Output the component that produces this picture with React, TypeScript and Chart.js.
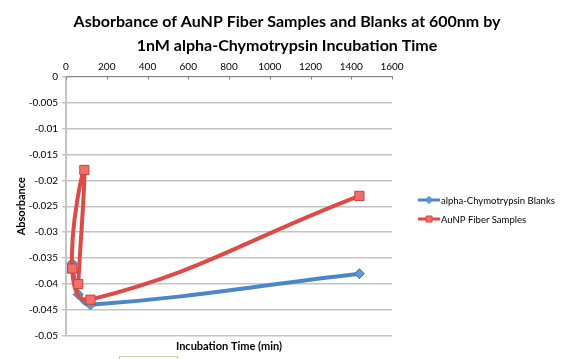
import { useEffect, useRef } from "react";
import { Chart, registerables } from "chart.js";

Chart.register(...registerables);

const TITLE_LINES = [
  "Asborbance of AuNP Fiber Samples and Blanks at 600nm by",
  "1nM alpha-Chymotrypsin Incubation Time",
];
const X_TITLE = "Incubation Time (min)";
const Y_TITLE = "Absorbance";
const BLANK_LABEL = "alpha-Chymotrypsin Blanks";
const SAMPLE_LABEL = "AuNP Fiber Samples";

const blankTimes = [30, 60, 120, 1440];
const blankValues = [-0.036, -0.042, -0.044, -0.038];

const sampleTimes = [60, 90, 30, 120, 1440];
const sampleValues = [-0.04, -0.018, -0.037, -0.043, -0.023];

const xTickValues = [0, 200, 400, 600, 800, 1000, 1200, 1400, 1600];
const yTickValues = [0, -0.005, -0.01, -0.015, -0.02, -0.025, -0.03, -0.035, -0.04, -0.045, -0.05];

const FONT = "Lato, 'Open Sans', sans-serif";
const BLUE = "#4a86c8";
const RED = "#dd4b47";

const overlayPlugin = {
  id: "overlay",
  afterDraw(chart: any) {
    const ctx = chart.ctx as CanvasRenderingContext2D;
    const xs = chart.scales.x;
    const area = chart.chartArea;
    ctx.save();
    // inward tick marks on the top x axis
    ctx.strokeStyle = "#868686";
    ctx.lineWidth = 1;
    xTickValues.forEach((v) => {
      const px = Math.round(xs.getPixelForValue(v)) + 0.5;
      ctx.beginPath();
      ctx.moveTo(px, area.top);
      ctx.lineTo(px, area.top + 3);
      ctx.stroke();
    });
    // title
    ctx.fillStyle = "#000";
    ctx.font = `bold 16px ${FONT}`;
    ctx.textAlign = "center";
    ctx.textBaseline = "middle";
    ctx.fillText(TITLE_LINES[0], 287, 22);
    ctx.fillText(TITLE_LINES[1], 287, 46);
    // legend
    const items = [
      { label: BLANK_LABEL, color: BLUE, fill: "#5b9bd5", style: "diamond", y: 200 },
      { label: SAMPLE_LABEL, color: RED, fill: "#f26e6b", style: "square", y: 219 },
    ];
    items.forEach((it) => {
      ctx.strokeStyle = it.color;
      ctx.lineWidth = 3;
      ctx.beginPath();
      ctx.moveTo(418, it.y);
      ctx.lineTo(440, it.y);
      ctx.stroke();
      ctx.fillStyle = it.fill;
      ctx.lineWidth = 1;
      ctx.beginPath();
      if (it.style === "diamond") {
        ctx.moveTo(429, it.y - 3.5);
        ctx.lineTo(432.5, it.y);
        ctx.lineTo(429, it.y + 3.5);
        ctx.lineTo(425.5, it.y);
        ctx.closePath();
      } else {
        ctx.rect(426, it.y - 3, 6, 6);
      }
      ctx.fill();
      ctx.stroke();
      ctx.fillStyle = "#000";
      ctx.font = `9.5px ${FONT}`;
      ctx.textAlign = "left";
      ctx.textBaseline = "middle";
      ctx.fillText(it.label, 441, it.y + 0.5);
    });
    // tooltip remnant box at bottom
    ctx.fillStyle = "#ffffe1";
    ctx.strokeStyle = "#c8c8b0";
    ctx.lineWidth = 1;
    ctx.fillRect(119, 356.5, 59, 4);
    ctx.strokeRect(119.5, 356.5, 58, 4);
    ctx.restore();
  },
};

export default function App() {
  const ref = useRef<HTMLCanvasElement | null>(null);

  useEffect(() => {
    document.body.style.margin = "0";
    const canvas = ref.current;
    if (!canvas) return;
    const chart = new Chart(canvas, {
      type: "scatter",
      data: {
        datasets: [
          {
            label: BLANK_LABEL,
            data: blankTimes.map((t, i) => ({ x: t, y: blankValues[i] })),
            showLine: true,
            borderColor: BLUE,
            borderWidth: 4,
            tension: 0.4,
            pointStyle: "rectRot",
            pointRadius: 5,
            pointBackgroundColor: "#5b9bd5",
            pointBorderColor: "#3d72b0",
            pointBorderWidth: 1,
            order: 1,
          },
          {
            label: SAMPLE_LABEL,
            data: sampleTimes.map((t, i) => ({ x: t, y: sampleValues[i] })),
            showLine: true,
            borderColor: RED,
            borderWidth: 4,
            tension: 0.45,
            pointStyle: "rect",
            pointRadius: 6.5,
            pointBackgroundColor: "#f26e6b",
            pointBorderColor: "#c8443f",
            pointBorderWidth: 1,
            order: 0,
          },
        ],
      },
      options: {
        responsive: false,
        animation: false,
        events: [],
        layout: { padding: { top: 56.5, right: 169, bottom: 0, left: 0 } },
        plugins: {
          legend: { display: false },
          title: { display: false },
          tooltip: { enabled: false },
        },
        scales: {
          x: {
            type: "linear",
            position: "top",
            min: 0,
            max: 1600,
            afterBuildTicks: (s: any) => {
              s.ticks = xTickValues.map((v) => ({ value: v }));
            },
            afterFit: (s: any) => {
              s.height = 20;
            },
            ticks: {
              color: "#000",
              font: { family: FONT, size: 10 },
              padding: 4,
              maxRotation: 0,
              callback: (v: any) => String(v),
            },
            grid: { drawOnChartArea: false, drawTicks: false },
            border: { color: "#868686", width: 1 },
          },
          y: {
            type: "linear",
            position: "left",
            min: -0.05,
            max: 0,
            afterBuildTicks: (s: any) => {
              s.ticks = yTickValues.map((v) => ({ value: v }));
            },
            afterFit: (s: any) => {
              s.width = 66;
            },
            ticks: {
              color: "#000",
              font: { family: FONT, size: 10 },
              padding: 4,
              callback: (v: any) => String(Number(Number(v).toFixed(3))),
            },
            grid: { color: "#c4c4c4", lineWidth: 1.5, tickLength: 4 },
            border: { color: "#c4c4c4", width: 2 },
            title: {
              display: true,
              text: Y_TITLE,
              color: "#000",
              font: { family: FONT, size: 11, weight: "bold" },
              padding: { top: 15, bottom: 0 },
            },
          },
          x2: {
            type: "linear",
            axis: "x",
            position: "bottom",
            afterFit: (s: any) => {
              s.height = 23;
            },
            ticks: { display: false },
            grid: { display: false },
            border: { display: false },
            title: {
              display: true,
              text: X_TITLE,
              color: "#000",
              font: { family: FONT, size: 11, weight: "bold" },
              padding: { top: 0, bottom: 6 },
            },
          },
        },
      } as any,
      plugins: [overlayPlugin],
    });
    return () => chart.destroy();
  }, []);

  return (
    <div style={{ position: "relative", width: 561, height: 359, background: "#fff" }}>
      <canvas ref={ref} width={561} height={359} style={{ display: "block" }} />
    </div>
  );
}
